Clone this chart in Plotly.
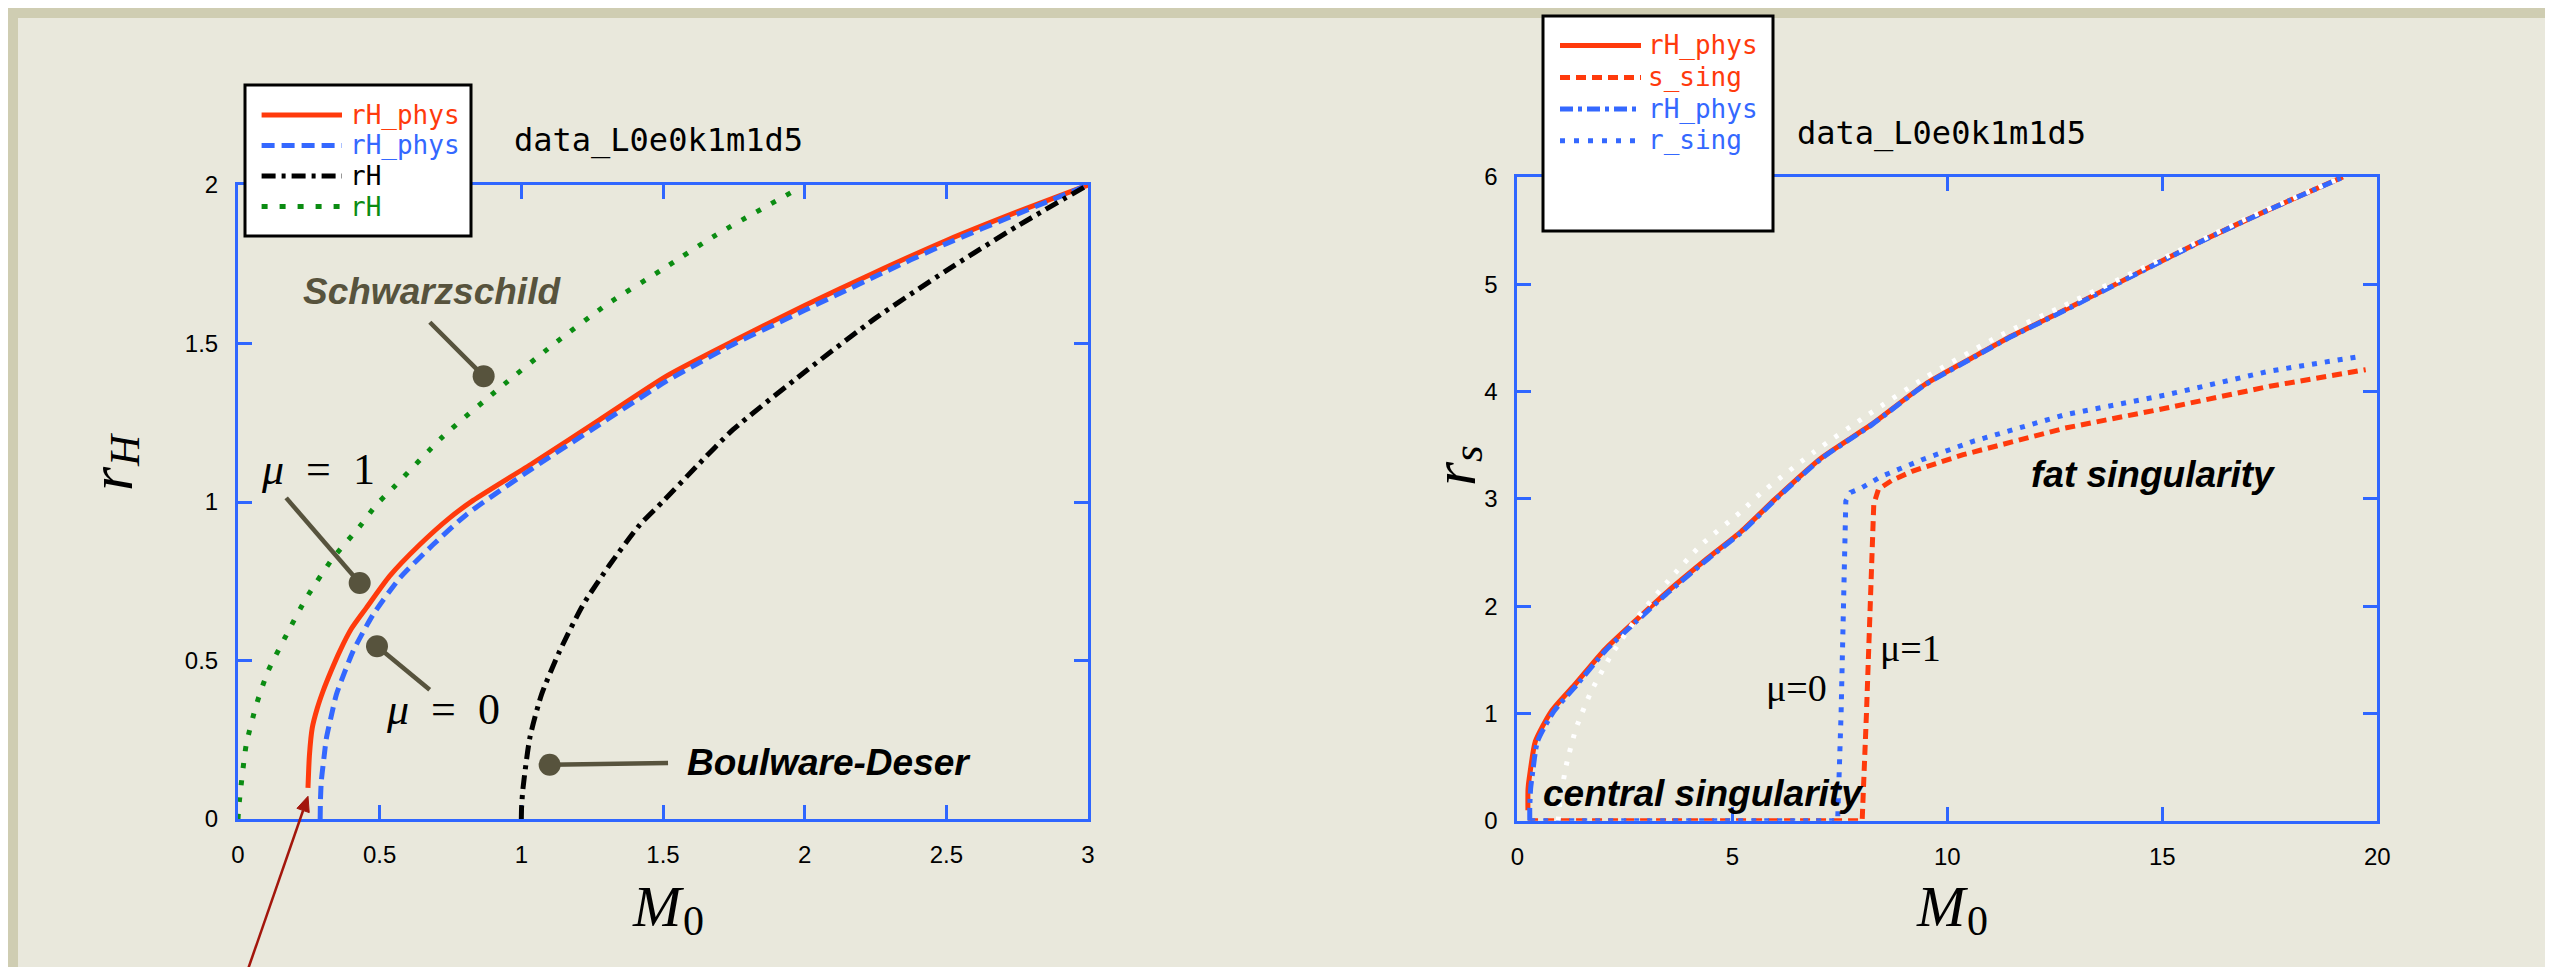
import plotly.graph_objects as go

# ---------------- data ----------------
# Left panel: r_H versus M_0
left_mu1_M = [0.247, 0.252, 0.262, 0.280, 0.300, 0.330, 0.359, 0.400, 0.453, 0.535, 0.641, 0.747,
              0.830, 1.041, 1.277, 1.512, 1.747, 2.0, 2.25, 2.5, 2.75, 3.0]
left_mu1_rH = [0.098, 0.200, 0.287, 0.350, 0.403, 0.470, 0.529, 0.600, 0.666, 0.766, 0.865, 0.950,
               1.005, 1.123, 1.260, 1.397, 1.507, 1.620, 1.725, 1.825, 1.915, 2.0]
left_mu0_M = [0.290, 0.291, 0.294, 0.303, 0.312, 0.328, 0.347, 0.375, 0.406, 0.477, 0.571, 0.688,
              0.806, 1.041, 1.277, 1.512, 1.747, 2.0, 2.25, 2.5, 2.75, 3.0]
left_mu0_rH = [0.0, 0.060, 0.119, 0.190, 0.255, 0.320, 0.392, 0.460, 0.529, 0.645, 0.760, 0.865,
               0.960, 1.107, 1.245, 1.381, 1.497, 1.605, 1.712, 1.815, 1.908, 2.0]
left_bd_M = [1.0, 1.001, 1.006, 1.030, 1.071, 1.135, 1.218, 1.312, 1.418, 1.500, 1.618, 1.747,
             2.0, 2.25, 2.5, 2.75, 3.0]
left_bd_rH = [0.0, 0.040, 0.098, 0.256, 0.392, 0.529, 0.676, 0.802, 0.928, 1.002, 1.112, 1.228,
              1.410, 1.580, 1.730, 1.870, 2.0]
left_schw_M = [0.0, 0.002, 0.006, 0.029, 0.065, 0.106, 0.171, 0.241, 0.335, 0.430, 0.488, 0.547,
               0.724, 0.924, 1.112, 1.300, 1.500, 1.688, 1.960]
left_schw_rH = [0.0, 0.030, 0.066, 0.234, 0.361, 0.466, 0.581, 0.697, 0.823, 0.923, 0.991, 1.044,
                1.207, 1.360, 1.496, 1.622, 1.735, 1.843, 1.980]

# Right panel: r_s versus M_0
right_rh1_M = [0.247, 0.25, 0.30, 0.42, 0.79, 1.335, 2.03, 2.73, 3.50, 4.43, 5.21, 6.0, 7.07,
               8.23, 9.47, 10.64, 11.41, 12.53, 14.9, 16.0, 17.5, 19.2]
right_rh1_r = [0.098, 0.30, 0.46, 0.74, 1.02, 1.268, 1.595, 1.859, 2.139, 2.449, 2.698, 3.0, 3.381,
               3.692, 4.064, 4.329, 4.50, 4.72, 5.20, 5.42, 5.70, 6.0]
right_ssing_M = [0.25, 8.02, 8.12, 8.21, 8.29, 8.40, 8.70, 9.18, 10.37, 12.74, 15.1, 17.5, 19.73]
right_ssing_r = [0.0, 0.0, 1.0, 2.0, 2.95, 3.09, 3.17, 3.257, 3.412, 3.66, 3.847, 4.05, 4.204]
right_rh0_M = [0.29, 0.29, 0.31, 0.36, 0.47, 0.85, 1.38, 2.06, 2.76, 3.53, 4.45, 5.23, 6.02, 7.08,
               8.24, 9.48, 10.65, 11.42, 12.54, 14.9, 16.0, 17.5, 19.2]
right_rh0_r = [0.0, 0.12, 0.30, 0.46, 0.74, 1.02, 1.265, 1.59, 1.855, 2.135, 2.445, 2.695, 3.0,
               3.378, 3.69, 4.062, 4.327, 4.498, 4.718, 5.198, 5.418, 5.698, 5.998]
right_rsing_M = [0.30, 7.45, 7.53, 7.60, 7.64, 7.75, 7.99, 8.47, 9.41, 10.6, 12.74, 15.1, 17.48, 19.63]
right_rsing_r = [0.0, 0.0, 1.0, 2.0, 2.98, 3.06, 3.10, 3.21, 3.365, 3.537, 3.785, 3.97, 4.19, 4.33]
right_white_M = [0.95, 1.0, 1.14, 1.37, 1.72, 2.19, 2.81, 3.5, 4.28, 5.21, 5.67, 6.92, 8.16, 9.47,
                 11.26, 12.6, 14.9, 17.0, 19.2]
right_white_r = [0.0, 0.2, 0.52, 0.865, 1.207, 1.548, 1.906, 2.232, 2.573, 2.884, 3.055, 3.443,
                 3.785, 4.127, 4.53, 4.78, 5.22, 5.62, 6.0]

left_xticks = [0, 0.5, 1, 1.5, 2, 2.5, 3]
left_yticks = [0, 0.5, 1, 1.5, 2]
right_xticks = [0, 5, 10, 15, 20]
right_yticks = [0, 1, 2, 3, 4, 5, 6]

left_legend_labels = ["rH_phys", "rH_phys", "rH", "rH"]
right_legend_labels = ["rH_phys", "s_sing", "rH_phys", "r_sing"]
panel_title = "data_L0e0k1m1d5"

# ---------------- styling ----------------
W, H = 2553, 967
RED = "#ff3a0c"
BLUE = "#3468ff"
AXBLUE = "#2f66ff"
GREEN = "#0b8c12"
BLACK = "#000000"
OLIVE = "#57533d"
ARROW = "#a3160c"
SANS = "Liberation Sans, Arial, sans-serif"
SERIF = "Liberation Serif, Times New Roman, serif"
MONO = "DejaVu Sans Mono, monospace"


def fx(p):
    return p / W


def fy(p):
    return 1 - p / H


fig = go.Figure()

# left traces
fig.add_trace(go.Scatter(x=left_mu1_M, y=left_mu1_rH, mode="lines", name="rH_phys",
                         line=dict(color=RED, width=5, shape="spline", smoothing=0.6), xaxis="x", yaxis="y"))
fig.add_trace(go.Scatter(x=left_mu0_M, y=left_mu0_rH, mode="lines", name="rH_phys",
                         line=dict(color=BLUE, width=5, dash="13px,7px", shape="spline", smoothing=0.6),
                         xaxis="x", yaxis="y"))
fig.add_trace(go.Scatter(x=left_bd_M, y=left_bd_rH, mode="lines", name="rH",
                         line=dict(color=BLACK, width=5, dash="14px,6px,4px,6px", shape="spline", smoothing=0.6),
                         xaxis="x", yaxis="y"))
fig.add_trace(go.Scatter(x=left_schw_M, y=left_schw_rH, mode="lines", name="rH",
                         line=dict(color=GREEN, width=5, dash="5px,12px", shape="spline", smoothing=0.6),
                         xaxis="x", yaxis="y"))

# right traces
fig.add_trace(go.Scatter(x=right_rh1_M, y=right_rh1_r, mode="lines", name="rH_phys",
                         line=dict(color=RED, width=5, shape="spline", smoothing=0.6), xaxis="x2", yaxis="y2"))
fig.add_trace(go.Scatter(x=right_ssing_M, y=right_ssing_r, mode="lines", name="s_sing",
                         line=dict(color=RED, width=5, dash="10px,6px"), xaxis="x2", yaxis="y2"))
fig.add_trace(go.Scatter(x=right_rh0_M, y=right_rh0_r, mode="lines", name="rH_phys",
                         line=dict(color=BLUE, width=5, dash="13px,5px,4px,5px", shape="spline", smoothing=0.6),
                         xaxis="x2", yaxis="y2"))
fig.add_trace(go.Scatter(x=right_rsing_M, y=right_rsing_r, mode="lines", name="r_sing",
                         line=dict(color=BLUE, width=5, dash="5px,8px"), xaxis="x2", yaxis="y2"))
fig.add_trace(go.Scatter(x=right_white_M, y=right_white_r, mode="lines", name="rH",
                         line=dict(color="#ffffff", width=5, dash="4px,10px", shape="spline", smoothing=0.6),
                         xaxis="x2", yaxis="y2"))


def axis_style(rng, ticks, dom, anchor):
    return dict(range=rng, domain=dom, anchor=anchor, tickvals=ticks,
                ticktext=[("%g" % t) for t in ticks],
                showline=True, linecolor=AXBLUE, linewidth=3, mirror="ticks",
                ticks="inside", ticklen=14, tickwidth=3, tickcolor=AXBLUE,
                showgrid=False, zeroline=False, automargin=False,
                tickfont=dict(family=SANS, size=24, color="black"),
                ticklabelstandoff=12, layer="below traces")


fig.update_layout(
    width=W, height=H,
    margin=dict(l=0, r=0, t=0, b=0, pad=0),
    paper_bgcolor="#cfcdb2",
    plot_bgcolor="rgba(0,0,0,0)",
    showlegend=False,
    xaxis=axis_style([0, 3], left_xticks, [fx(230), fx(1080)], "y"),
    yaxis=axis_style([0, 2], left_yticks, [fy(811), fy(177)], "x"),
    xaxis2=axis_style([0, 20], right_xticks, [fx(1509.3), fx(2369.3)], "y2"),
    yaxis2=axis_style([0, 6], right_yticks, [fy(812.8), fy(169)], "x2"),
)

shapes = []
annotations = []

# page background (inner lighter panel)
shapes.append(dict(type="rect", xref="paper", yref="paper", x0=fx(10), x1=fx(W - 10), y0=0, y1=fy(10),
                   fillcolor="#e9e8dc", line=dict(width=0), layer="below"))


def legend(box, rows, line_x, text_x, entries):
    x0, y0, x1, y1 = box
    shapes.append(dict(type="rect", xref="paper", yref="paper", x0=fx(x0), x1=fx(x1), y0=fy(y1), y1=fy(y0),
                       fillcolor="white", line=dict(color="black", width=3), layer="above"))
    for ry, (color, dash, text) in zip(rows, entries):
        shapes.append(dict(type="line", xref="paper", yref="paper", x0=fx(line_x[0]), x1=fx(line_x[1]),
                           y0=fy(ry), y1=fy(ry), line=dict(color=color, width=5, dash=dash), layer="above"))
        annotations.append(dict(xref="paper", yref="paper", x=fx(text_x), y=fy(ry), text=text,
                                showarrow=False, xanchor="left", yanchor="middle",
                                font=dict(family=MONO, size=26, color=color)))


legend((237, 77, 463, 228), [107, 137.5, 168, 198.5], (253.6, 334), 340,
       [(RED, "solid", left_legend_labels[0]), (BLUE, "13px,7px", left_legend_labels[1]),
        (BLACK, "14px,6px,4px,6px", left_legend_labels[2]), (GREEN, "6px,12px", left_legend_labels[3])])
legend((1535, 8, 1765, 223), [37.5, 69.5, 101, 132.7], (1552, 1633), 1638,
       [(RED, "solid", right_legend_labels[0]), (RED, "10px,6px", right_legend_labels[1]),
        (BLUE, "13px,5px,4px,5px", right_legend_labels[2]), (BLUE, "5px,9px", right_legend_labels[3])])

# panel titles
for tx, ty in [(503.6, 131.7), (1787, 125)]:
    annotations.append(dict(xref="paper", yref="paper", x=fx(tx), y=fy(ty), text=panel_title,
                            showarrow=False, xanchor="left", yanchor="middle",
                            font=dict(family=MONO, size=32, color="black")))


def ptext(x, y, text, size, italic=True, angle=0):
    annotations.append(dict(xref="paper", yref="paper", x=fx(x), y=fy(y), text=text, showarrow=False,
                            textangle=angle, xanchor="center", yanchor="middle",
                            font=dict(family=SERIF, size=size, color="black",
                                      style="italic" if italic else "normal")))


# axis titles: M_0 (main letter + subscript)
for mx in (650, 1934):
    ptext(mx, 898, "M", 58)
    ptext(mx + 35, 913, "0", 42, italic=False)
# rotated r_H and r_s
ptext(103, 471, "r", 62, angle=-90)
ptext(117, 442, "H", 43, angle=-90)
ptext(1446, 466, "r", 62, angle=-90)
ptext(1460, 446, "s", 43, angle=-90)


def label(xr, yr, x, y, text, color="black", anchor="center", size=37, family=SANS, bold=True):
    font = dict(family=family, size=size, color=color)
    if bold:
        font.update(weight="bold", style="italic")
    annotations.append(dict(xref=xr, yref=yr, x=x, y=y, text=text, showarrow=False, xanchor=anchor,
                            yanchor="middle", font=font))


def pointer(xr, yr, p0, p1):
    shapes.append(dict(type="line", xref=xr, yref=yr, x0=p0[0], y0=p0[1], x1=p1[0], y1=p1[1],
                       line=dict(color=OLIVE, width=4.5), layer="above"))
    shapes.append(dict(type="circle", xref=xr, yref=yr, xsizemode="pixel", ysizemode="pixel",
                       xanchor=p1[0], yanchor=p1[1], x0=-11, x1=11, y0=-11, y1=11,
                       fillcolor=OLIVE, line=dict(width=0), layer="above"))


# left annotations
label("x", "y", 0.685, 1.665, "Schwarzschild", color=OLIVE)
pointer("x", "y", (0.677, 1.567), (0.867, 1.397))
label("x", "y", 0.282, 1.101, "<i>μ</i>\u2002=\u20021", size=44, family=SERIF, bold=False)
pointer("x", "y", (0.170, 1.013), (0.4295, 0.7445))
label("x", "y", 0.7236, 0.345, "<i>μ</i>\u2002=\u20020", size=44, family=SERIF, bold=False)
pointer("x", "y", (0.6766, 0.408), (0.4906, 0.5448))
label("x", "y", 1.5766, 0.1767, "Boulware-Deser", anchor="left")
pointer("x", "y", (1.5177, 0.1767), (1.100, 0.1713))

# thin red arrow pointing at the start of the mu=1 curve (drawn as shapes)
tip = (300.0, 788.3)
tail = (238.0, 967.0)
dx, dy = tip[0] - tail[0], tip[1] - tail[1]
ln = (dx * dx + dy * dy) ** 0.5
ux, uy = dx / ln, dy / ln
hl, hw = 15.0, 6.5
bx, by = tip[0] - hl * ux, tip[1] - hl * uy
p1 = (bx + hw * uy, by - hw * ux)
p2 = (bx - hw * uy, by + hw * ux)
shapes.append(dict(type="line", xref="paper", yref="paper", x0=fx(tail[0]), y0=fy(tail[1]),
                   x1=fx(bx), y1=fy(by), line=dict(color=ARROW, width=2.5), layer="above"))
shapes.append(dict(type="path", xref="paper", yref="paper",
                   path="M %f %f L %f %f L %f %f Z" % (fx(tip[0]), fy(tip[1]), fx(p1[0]), fy(p1[1]),
                                                        fx(p2[0]), fy(p2[1])),
                   fillcolor=ARROW, line=dict(color=ARROW, width=1), layer="above"))

# right annotations
label("x2", "y2", 0.558, 0.259, "central singularity", anchor="left")
label("x2", "y2", 11.9, 3.226, "fat singularity", anchor="left")
label("x2", "y2", 6.49, 1.238, "μ=0", size=38, family=SERIF, bold=False)
label("x2", "y2", 9.14, 1.610, "μ=1", size=38, family=SERIF, bold=False)

fig.update_layout(shapes=shapes, annotations=annotations)
fig.write_html("out.html")
